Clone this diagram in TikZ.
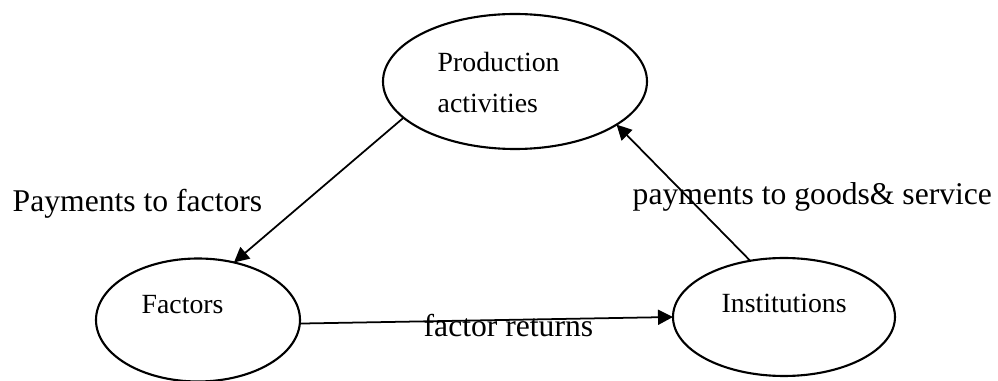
\documentclass[tikz,border=0pt]{standalone}
\usepackage{fontspec}
\setmainfont{Liberation Serif}
\usetikzlibrary{shapes.geometric,arrows.meta}

\tikzset{
  sector/.style={ellipse, draw, line width=0.6pt, inner sep=0pt, outer sep=0pt},
  inside/.style={anchor=base west, inner sep=0pt, font=\fontsize{7.9}{9.5}\selectfont},
  flowtext/.style={anchor=base west, inner sep=0pt, font=\fontsize{9}{11}\selectfont},
  link/.style={-{Triangle[length=1.5mm,width=1.5mm]}, line width=0.5pt},
}

\begin{document}
\begin{tikzpicture}
    \useasboundingbox (0,0) rectangle (9.98,3.81);

    \node [sector, minimum width=2.64cm, minimum height=1.35cm] (prod) at (5.15, 2.995) {};
    \node [sector, minimum width=2.04cm, minimum height=1.23cm] (fac) at (1.98, 0.61) {};
    \node [sector, minimum width=2.22cm, minimum height=1.18cm] (inst) at (7.84, 0.64) {};

    \node [inside] (prodA) at (4.37, 3.09) {Production};
    \node [inside] (prodB) at (4.37, 2.68) {activities};
    \node [inside] (facT) at (1.41, 0.67) {Factors};
    \node [inside] (instT) at (7.21, 0.68) {Institutions};

    \node [flowtext] (pay) at (0.12, 1.69) {Payments to factors};
    \node [flowtext] (goods) at (6.32, 1.76) {payments to goods\& service};
    \node [flowtext] (ret) at (4.23, 0.44) {factor returns};

    \draw [link] (prod.198) -- (fac.58);
    \draw [link] (fac.-2) -- (inst.180);
    \draw [link] (inst.121) -- (prod.-23);
\end{tikzpicture}
\end{document}
